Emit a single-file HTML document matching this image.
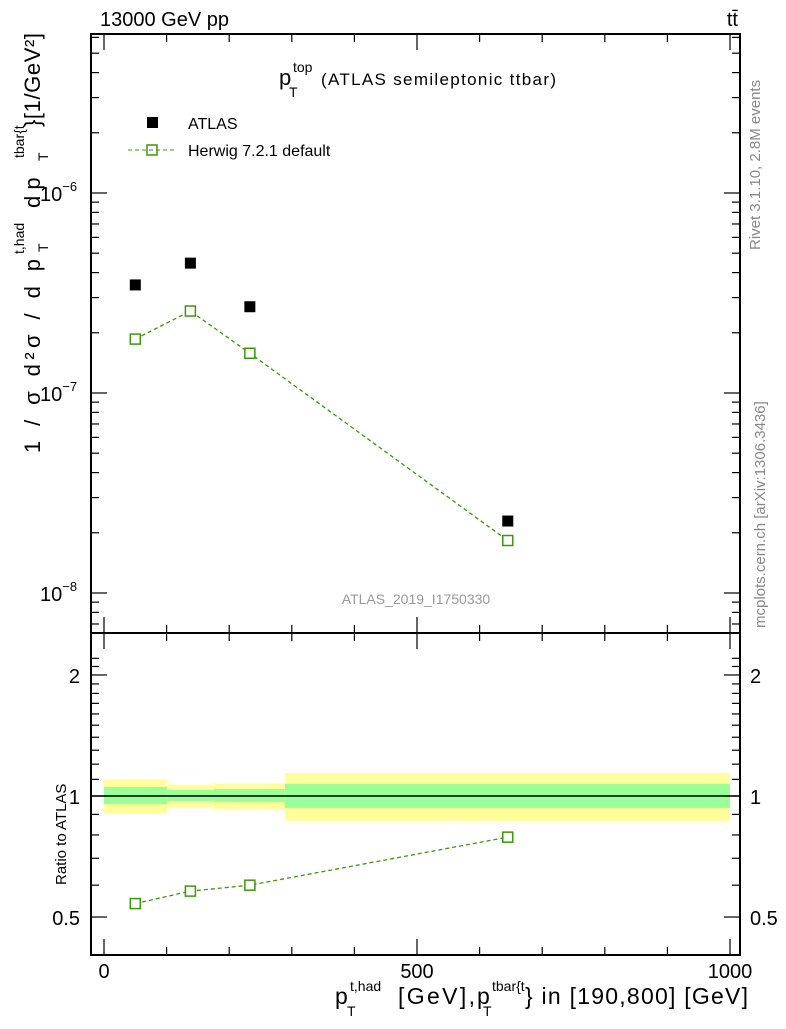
<!DOCTYPE html>
<html><head><meta charset="utf-8"><style>
body{margin:0;background:#fff;font-family:"Liberation Sans",sans-serif}
svg text{font-family:"Liberation Sans",sans-serif}
</style></head><body>
<svg id="c" width="786" height="1024" xmlns="http://www.w3.org/2000/svg">
<text x="100" y="26" font-size="20">13000 GeV pp</text>
<text x="738" y="26" font-size="20" text-anchor="end">tt̄</text>
<text y="85" font-size="22"><tspan x="279" y="85">p</tspan><tspan x="293" y="72" font-size="14">top</tspan><tspan x="289" y="97" font-size="14">T</tspan><tspan x="321" y="85" font-size="17" textLength="235" lengthAdjust="spacing">(ATLAS semileptonic ttbar)</tspan></text>
<rect x="147" y="117" width="11" height="11" fill="#000"/>
<text x="188" y="129" font-size="16">ATLAS</text>
<line x1="128" y1="150" x2="175" y2="150" stroke="#3a9a00" stroke-dasharray="4,3"/>
<rect x="147" y="145" width="10" height="10" fill="none" stroke="#3a9a00" stroke-width="1.5"/>
<text x="188" y="156" font-size="16">Herwig 7.2.1 default</text>
<text x="416" y="604" font-size="14" fill="#999" text-anchor="middle">ATLAS_2019_I1750330</text>
<text transform="translate(760,250) rotate(-90)" font-size="15" fill="#888">Rivet 3.1.10,  2.8M events</text>
<text transform="translate(765,628) rotate(-90)" font-size="15" fill="#888">mcplots.cern.ch [arXiv:1306.3436]</text>
<g transform="translate(40,460) rotate(-90)">
<text font-size="22"><tspan x="7" y="0" textLength="194" lengthAdjust="spacing">1 / σ d²σ / d p</tspan><tspan x="206" y="-16" font-size="14">t,had</tspan><tspan x="208" y="8" font-size="14">T</tspan><tspan x="252" y="0">d p</tspan><tspan x="302" y="-16" font-size="14">tbar{t</tspan><tspan x="299" y="8" font-size="14">T</tspan><tspan x="333" y="0" textLength="94" lengthAdjust="spacing">}[1/GeV²]</tspan></text>
</g>
<text transform="translate(66,885) rotate(-90)" font-size="15">Ratio to ATLAS</text>
<text font-size="23"><tspan x="335" y="1004">p</tspan><tspan x="350" y="991" font-size="14">t,had</tspan><tspan x="347" y="1016" font-size="14">T</tspan><tspan x="398" y="1004" textLength="77" lengthAdjust="spacing">[GeV],</tspan><tspan x="477" y="1004">p</tspan><tspan x="492" y="991" font-size="14">tbar{t</tspan><tspan x="483" y="1016" font-size="14">T</tspan><tspan x="525" y="1004" textLength="223" lengthAdjust="spacing">} in [190,800] [GeV]</tspan></text>
<g id="g"></g>
</svg>
<script>
const binEdges=[0,101,175,289,1000];
const yellowHi=[1.10,1.067,1.075,1.141];
const yellowLo=[0.905,0.937,0.928,0.867];
const greenHi=[1.053,1.035,1.041,1.071];
const greenLo=[0.955,0.972,0.966,0.934];
const xVals=[50,138,233,645];
const atlasVals=[3.47e-7,4.46e-7,2.70e-7,2.29e-8];
const herwigVals=[1.86e-7,2.57e-7,1.58e-7,1.83e-8];
const ratioVals=[0.54,0.58,0.60,0.79];
const xTicks=[0,500,1000];
const yTicks=[1e-8,1e-7,1e-6];
const yTickLabels=["10","10","10"];
const yTickExp=["−8","−7","−6"];
const rTicks=[0.5,1,2];
const rTickLabels=["0.5","1","2"];

const NS="http://www.w3.org/2000/svg",g=document.getElementById('g');
const L=91,R=740,T=34,M=633,B=955;
const X=v=>104+v*0.626;
const Y=v=>193-(Math.log10(v)+6)*200;
const RY=v=>796-Math.log10(v)*402;
function mk(t,a){const e=document.createElementNS(NS,t);for(const k in a)e.setAttribute(k,a[k]);g.appendChild(e);return e;}
for(let i=0;i<4;i++){
 let e=mk('rect',{x:X(binEdges[i]),y:RY(yellowHi[i]),width:X(binEdges[i+1])-X(binEdges[i]),height:RY(yellowLo[i])-RY(yellowHi[i]),fill:'#ffff99'});
 
 
 e=mk('rect',{x:X(binEdges[i]),y:RY(greenHi[i]),width:X(binEdges[i+1])-X(binEdges[i]),height:RY(greenLo[i])-RY(greenHi[i]),fill:'#99ff99'});
 
 
}
let e=mk('line',{x1:L,x2:R,y1:RY(1),y2:RY(1),stroke:'#000','stroke-width':1.5});


e=mk('rect',{x:L,y:T,width:R-L,height:M-T,fill:'none',stroke:'#000','stroke-width':2});


e=mk('rect',{x:L,y:M,width:R-L,height:B-M,fill:'none',stroke:'#000','stroke-width':2});


for(let v=0;v<=1000;v+=100){const big=v%500==0,len=big?16:8;
 for(const [y0,d] of [[T,1],[M,-1],[M,1],[B,-1]]) mk('line',{x1:X(v),x2:X(v),y1:y0,y2:y0+d*len,stroke:'#000','stroke-width':1.2});}
xTicks.forEach(v=>{const t=mk('text',{x:X(v),y:978,'font-size':20,'text-anchor':'middle'});t.textContent=v;
 
 });
for(let d=-9;d<=-5;d++)for(let m=1;m<10;m++){const v=m*Math.pow(10,d),y=Y(v);if(y<T||y>M)continue;const len=m==1?16:8;
 mk('line',{x1:L,x2:L+len,y1:y,y2:y,stroke:'#000','stroke-width':1.2});mk('line',{x1:R,x2:R-len,y1:y,y2:y,stroke:'#000','stroke-width':1.2});}
yTicks.forEach((v,i)=>{const t=mk('text',{x:40,y:Y(v)+8,'font-size':20});t.textContent=yTickLabels[i];
 const s=document.createElementNS(NS,'tspan');s.setAttribute('font-size',13);s.setAttribute('dy',-10);s.textContent=yTickExp[i];t.appendChild(s);
 
 });
for(let v=0.5;v<=2.3;v+=0.1){const y=RY(v);if(y<M||y>B)continue;const big=[0.5,1,2].some(a=>Math.abs(a-v)<1e-6),len=big?16:8;
 mk('line',{x1:L,x2:L+len,y1:y,y2:y,stroke:'#000','stroke-width':1.2});mk('line',{x1:R,x2:R-len,y1:y,y2:y,stroke:'#000','stroke-width':1.2});}
rTicks.forEach((v,i)=>{for(const [x,a] of [[80,'end'],[750,'start']]){const t=mk('text',{x:x,y:RY(v)+8,'font-size':20,'text-anchor':a});t.textContent=rTickLabels[i];
 
 }});
e=mk('polyline',{points:xVals.map((x,i)=>X(x)+','+Y(herwigVals[i])).join(' '),fill:'none',stroke:'#3a9a00','stroke-dasharray':'4,3','stroke-width':1.3});


e=mk('polyline',{points:xVals.map((x,i)=>X(x)+','+RY(ratioVals[i])).join(' '),fill:'none',stroke:'#3a9a00','stroke-dasharray':'4,3','stroke-width':1.3});


xVals.forEach((x,i)=>{
 let r=mk('rect',{x:X(x)-5.5,y:Y(atlasVals[i])-5.5,width:11,height:11,fill:'#000'});
 
 
 r=mk('rect',{x:X(x)-5,y:Y(herwigVals[i])-5,width:10,height:10,fill:'#fff',stroke:'#3a9a00','stroke-width':1.5});
 
 
 r=mk('rect',{x:X(x)-5,y:RY(ratioVals[i])-5,width:10,height:10,fill:'#fff',stroke:'#3a9a00','stroke-width':1.5});
 
 
});
</script>
</body></html>
